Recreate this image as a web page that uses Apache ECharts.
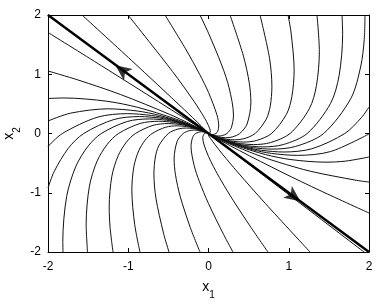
<!DOCTYPE html>
<html><head><meta charset="utf-8">
<script src="https://cdn.jsdelivr.net/npm/echarts@6/dist/echarts.min.js"></script>
<style>html,body{margin:0;padding:0;background:#fff}#c{width:379px;height:306px}</style>
</head><body><div id="c"></div>
<script>
// axis ticks
const tickValues = [-2, -1, 0, 1, 2];

// straight-line trajectory (eigenvector) and its arrows [x1, x2, rotation]
const diagonal = [[-2, 2], [2, -2]];
const arrowMarks = [[-1.16, 1.15, 53.6], [1.145, -1.145, -126.4]];

// trajectories above the diagonal
const t1 = [[0,0],[-0.0928,0.1299],[-0.3026,0.4034],[-0.9596,1.2337],[-1.576,2]];
const t2 = [[0,0],[0.024,0.024],[0,0.1333],[-0.0549,0.2747],[-0.1812,0.5435],[-0.4481,1.0455],[-1.003,2]];
const t3 = [[0,0],[0.0254,-0.0127],[0.0518,-0.0173],[0.0938,0],[0.116,0.0387],[0.1275,0.1275],[0.1051,0.3153],[0,0.6932],[-0.1113,1.0014],[-0.2857,1.4286],[-0.542,2]];
const t4 = [[0,0],[0.0285,-0.0171],[0.062,-0.031],[0.1265,-0.0422],[0.1738,-0.0348],[0.2292,0],[0.2834,0.0945],[0.3115,0.3115],[0.2568,0.7704],[0.1649,1.154],[0,1.6935],[-0.106,2]];
const t5 = [[0,0],[0.0214,-0.0142],[0.0484,-0.029],[0.1052,-0.0526],[0.2145,-0.0715],[0.2947,-0.0589],[0.3887,0],[0.4806,0.1602],[0.5283,0.5283],[0.5087,0.8479],[0.4355,1.3065],[0.268,2]];
const t6 = [[0,0],[0.0137,-0.0098],[0.0319,-0.0213],[0.0723,-0.0434],[0.1573,-0.0787],[0.227,-0.0973],[0.3208,-0.1069],[0.4407,-0.0881],[0.5813,0],[0.7188,0.2396],[0.7691,0.4615],[0.79,0.79],[0.7608,1.268],[0.642,2]];
const t7 = [[0,0],[0.0185,-0.0132],[0.0431,-0.0288],[0.0977,-0.0586],[0.2125,-0.1063],[0.3066,-0.1314],[0.4333,-0.1444],[0.5953,-0.1191],[0.7852,0],[0.971,0.3237],[1.0389,0.6234],[1.0672,1.0672],[1.0278,1.7129],[0.991,2]];
const t8 = [[0,0],[0.0101,-0.0076],[0.024,-0.0171],[0.0558,-0.0372],[0.1265,-0.0759],[0.2751,-0.1376],[0.3969,-0.1701],[0.5609,-0.187],[0.7706,-0.1541],[1.0164,0],[1.2568,0.4189],[1.3448,0.8069],[1.3814,1.3814],[1.352,2]];
const t9 = [[0,0],[0.0122,-0.0091],[0.029,-0.0207],[0.0676,-0.0451],[0.1531,-0.0918],[0.3329,-0.1664],[0.4802,-0.2058],[0.6786,-0.2262],[0.9324,-0.1865],[1.2298,0],[1.5207,0.5069],[1.6272,0.9763],[1.6715,1.6715],[1.664,2]];
const t10 = [[0,0],[0.0142,-0.0107],[0.0338,-0.0242],[0.0788,-0.0526],[0.1786,-0.1071],[0.3883,-0.1941],[0.5602,-0.2401],[0.7916,-0.2639],[1.0876,-0.2175],[1.4346,0],[1.7739,0.5913],[1.8981,1.1389],[1.9406,1.5878],[1.95,2]];
const r1 = [[0,0],[0.007,-0.0054],[0.0168,-0.0126],[0.0401,-0.0286],[0.0933,-0.0622],[0.2114,-0.1268],[0.4597,-0.2299],[0.6632,-0.2842],[0.9372,-0.3124],[1.2877,-0.2575],[1.6985,0],[1.9083,0.2726],[2,0.447]];
const r2 = [[0,0],[0.0082,-0.0064],[0.0199,-0.0149],[0.0473,-0.0338],[0.1103,-0.0735],[0.2498,-0.1499],[0.5432,-0.2716],[0.7837,-0.3359],[1.1075,-0.3692],[1.5216,-0.3043],[2,-0.008]];
const r3 = [[0,0],[0.0044,-0.0035],[0.0108,-0.0084],[0.0261,-0.0196],[0.0621,-0.0443],[0.1446,-0.0964],[0.3275,-0.1965],[0.7121,-0.3561],[1.0273,-0.4403],[1.4518,-0.4839],[1.7088,-0.466],[2,-0.397]];
const r4 = [[0,0],[0.0032,-0.0026],[0.0079,-0.0063],[0.0194,-0.0151],[0.0469,-0.0351],[0.1115,-0.0796],[0.2597,-0.1732],[0.5884,-0.353],[0.8731,-0.485],[1.2795,-0.6398],[1.8459,-0.7911],[2,-0.819]];
const r5 = [[0,0],[0.0017,-0.0014],[0.0042,-0.0036],[0.0106,-0.0088],[0.0264,-0.0216],[0.0652,-0.0522],[0.1595,-0.1241],[0.3854,-0.2889],[0.9167,-0.6548],[1.4033,-0.9715],[2,-1.342]];

// trajectories below the diagonal
const l1 = [[0,0],[-0.0314,0.0279],[-0.2062,0.1804],[-1.333,1.1425],[-2,1.705]];
const l2 = [[0,0],[-0.0024,0.002],[-0.0148,0.0118],[-0.0362,0.0281],[-0.0874,0.0655],[-0.2078,0.1484],[-0.4841,0.3228],[-1.0966,0.658],[-1.6272,0.904],[-2,1.055]];
const l3 = [[0,0],[-0.0055,0.0044],[-0.0134,0.0104],[-0.0323,0.0242],[-0.0769,0.0549],[-0.1791,0.1194],[-0.4058,0.2435],[-0.8824,0.4412],[-1.273,0.5456],[-1.7991,0.5997],[-2,0.591]];
const l4 = [[0,0],[-0.0093,0.0072],[-0.0225,0.0168],[-0.0534,0.0382],[-0.1245,0.083],[-0.282,0.1692],[-0.6132,0.3066],[-0.8846,0.3791],[-1.2502,0.4167],[-1.7176,0.3435],[-2,0.211]];
const l5 = [[0,0],[-0.0075,0.0058],[-0.0181,0.0135],[-0.043,0.0307],[-0.1001,0.0667],[-0.2267,0.136],[-0.4931,0.2465],[-0.7113,0.3048],[-1.0052,0.3351],[-1.3811,0.2762],[-1.8216,0],[-2,-0.219]];
const l6 = [[0,0],[-0.0154,0.0116],[-0.0367,0.0262],[-0.0854,0.057],[-0.1936,0.1161],[-0.4209,0.2104],[-0.6072,0.2602],[-0.8581,0.286],[-1.1789,0.2358],[-1.555,0],[-1.7471,-0.2496],[-1.9228,-0.641],[-2,-0.92]];
const b1 = [[0,0],[-0.0132,0.0099],[-0.0315,0.0225],[-0.0734,0.0489],[-0.1663,0.0998],[-0.3615,0.1808],[-0.5216,0.2235],[-0.7371,0.2457],[-1.0127,0.2025],[-1.3358,0],[-1.5008,-0.2144],[-1.6517,-0.5506],[-1.7674,-1.0604],[-1.8155,-1.8155],[-1.813,-2]];
const b2 = [[0,0],[-0.0111,0.0083],[-0.0265,0.0189],[-0.0616,0.0411],[-0.1396,0.0838],[-0.3036,0.1518],[-0.438,0.1877],[-0.619,0.2063],[-0.8504,0.1701],[-1.1217,0],[-1.2602,-0.18],[-1.387,-0.4623],[-1.4841,-0.8905],[-1.5245,-1.5245],[-1.508,-2]];
const b3 = [[0,0],[-0.0215,0.0153],[-0.05,0.0334],[-0.1133,0.068],[-0.2464,0.1232],[-0.3555,0.1524],[-0.5024,0.1675],[-0.6902,0.138],[-0.9104,0],[-1.0229,-0.1461],[-1.1257,-0.3753],[-1.2046,-0.7227],[-1.2374,-1.2374],[-1.2269,-1.5774],[-1.19,-2]];
const b4 = [[0,0],[-0.0166,0.0118],[-0.0386,0.0257],[-0.0875,0.0525],[-0.1902,0.0951],[-0.2744,0.1176],[-0.3878,0.1293],[-0.5328,0.1066],[-0.7028,0],[-0.7896,-0.1128],[-0.869,-0.2897],[-0.9299,-0.5579],[-0.9552,-0.9552],[-0.9199,-1.5331],[-0.854,-2]];
const b5 = [[0,0],[-0.0275,0.0183],[-0.0623,0.0374],[-0.1355,0.0677],[-0.1954,0.0838],[-0.2762,0.0921],[-0.3794,0.0759],[-0.5005,0],[-0.6189,-0.2063],[-0.6622,-0.3973],[-0.6802,-0.6802],[-0.6551,-1.0918],[-0.5607,-1.6822],[-0.492,-2]];
const b6 = [[0,0],[-0.0173,0.0115],[-0.0392,0.0235],[-0.0853,0.0427],[-0.1739,0.058],[-0.239,0.0478],[-0.3152,0],[-0.3898,-0.1299],[-0.4284,-0.4284],[-0.4126,-0.6876],[-0.3532,-1.0595],[-0.2267,-1.5871],[-0.106,-2]];
const b7 = [[0,0],[-0.0199,0.012],[-0.0433,0.0217],[-0.0883,0.0294],[-0.16,0],[-0.1979,-0.066],[-0.2175,-0.2175],[-0.1793,-0.538],[-0.1151,-0.8059],[0,-1.1826],[0.1898,-1.7083],[0.305,-2]];
const b8 = [[0,0],[-0.0142,0.0071],[-0.029,0.0097],[-0.0525,0],[-0.0714,-0.0714],[-0.0588,-0.1765],[0,-0.388],[0.0623,-0.5605],[0.1599,-0.7996],[0.308,-1.1294],[0.5273,-1.582],[0.741,-2]];
const b9 = [[0,0],[0,-0.0235],[0.032,-0.0959],[0.0791,-0.1845],[0.1738,-0.3476],[0.3582,-0.6447],[0.7086,-1.181],[1.265,-2]];
const b10 = [[0,0],[1.938,-2]];

const trajectories = [t1,t2,t3,t4,t5,t6,t7,t8,t9,t10,r1,r2,r3,r4,r5,l1,l2,l3,l4,l5,l6,b1,b2,b3,b4,b5,b6,b7,b8,b9,b10];

const FONT = 'Arial, "Liberation Sans", sans-serif';
const chart = echarts.init(document.getElementById('c'), null, {renderer: 'canvas'});

function axisCommon(showLabels) {
  return {
    type: 'value',
    min: tickValues[0],
    max: tickValues[tickValues.length - 1],
    interval: 1,
    axisLine: {show: true, onZero: false, lineStyle: {color: '#000', width: 1}},
    axisTick: {show: true, inside: true, length: 4, lineStyle: {color: '#000', width: 1}},
    axisLabel: {show: showLabels, color: '#000', fontSize: 12, fontFamily: FONT},
    splitLine: {show: false}
  };
}

const nameRich = {
  m: {fontSize: 14, fontFamily: FONT, color: '#000', verticalAlign: 'top', lineHeight: 20},
  s: {fontSize: 10, fontFamily: FONT, color: '#000', verticalAlign: 'bottom', lineHeight: 20}
};

const series = trajectories.map(c => ({
  type: 'line', data: c, smooth: 0.3, symbol: 'none', silent: true,
  lineStyle: {color: '#111', width: 1}, z: 2
}));
series.push({
  type: 'line', data: diagonal, symbol: 'none', silent: true,
  lineStyle: {color: '#000', width: 2.4}, z: 3
});
series.push({
  type: 'scatter', silent: true, z: 4,
  symbol: 'arrow', symbolSize: [11, 16],
  itemStyle: {color: '#000'},
  data: arrowMarks.map(a => ({value: [a[0], a[1]], symbolRotate: a[2]}))
});

chart.setOption({
  animation: false,
  backgroundColor: '#fff',
  grid: {left: 48, right: 10, top: 15, bottom: 54, containLabel: false, outerBoundsMode: 'none'},
  xAxis: [
    Object.assign(axisCommon(true), {
      position: 'bottom',
      axisLabel: {show: true, color: '#000', fontSize: 12, fontFamily: FONT, margin: 9},
      name: '{m|x}{s|1}', nameLocation: 'middle', nameGap: 28,
      nameTextStyle: {rich: nameRich}
    }),
    Object.assign(axisCommon(false), {position: 'top'})
  ],
  yAxis: [
    Object.assign(axisCommon(true), {
      position: 'left',
      axisLabel: {show: true, color: '#000', fontSize: 12, fontFamily: FONT, margin: 7},
      name: '{m|x}{s|2}', nameLocation: 'middle', nameGap: 26, nameMoveOverlap: false,
      nameTextStyle: {rich: nameRich}
    }),
    Object.assign(axisCommon(false), {position: 'right'})
  ],
  series: series
});
</script>
</body></html>
